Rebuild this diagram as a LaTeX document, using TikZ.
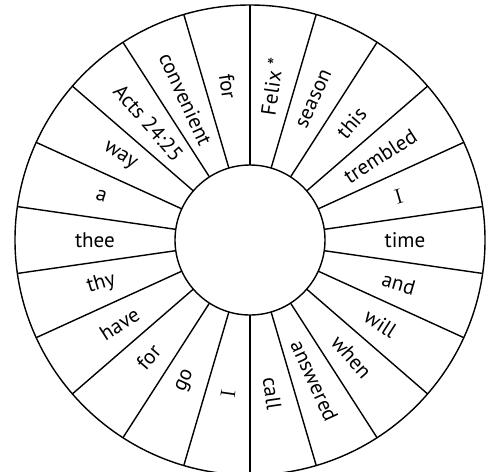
\documentclass[tikz,border=0pt]{standalone}
\usepackage{fontspec}
\setsansfont{PT Sans}

\begin{document}
\begin{tikzpicture}[x=0.02cm, y=0.02cm,
  rim/.style={line width=0.8pt},
  word/.style={font=\sffamily\fontsize{12}{14}\selectfont, inner sep=0pt}]
\useasboundingbox (-250,-231) rectangle (242,240);

% Rim and hub
\draw[rim] (0,0) circle (235);
\draw[rim] (0,0) circle (75);

% Spokes
\foreach \k in {0,...,21} {
  \pgfmathsetmacro{\a}{90 - \k*360/22}
  \draw[rim] (\a:75) -- (\a:235);
}

% Words, clockwise from the top
\foreach \w [count=\i from 0] in {Felix *, season, this, trembled, {\rmfamily I}, time, and, will, when, answered, call,
    {\rmfamily I}, go, for, have, thy, thee, a, way, Acts 24:25, convenient, for} {
  \pgfmathsetmacro{\a}{90 - (\i+0.5)*360/22}
  \pgfmathsetmacro{\r}{cos(\a) < 0 ? \a+180 : \a}
  \node[word, rotate=\r] (w\i) at (\a:155) {\w};
}

\end{tikzpicture}
\end{document}
